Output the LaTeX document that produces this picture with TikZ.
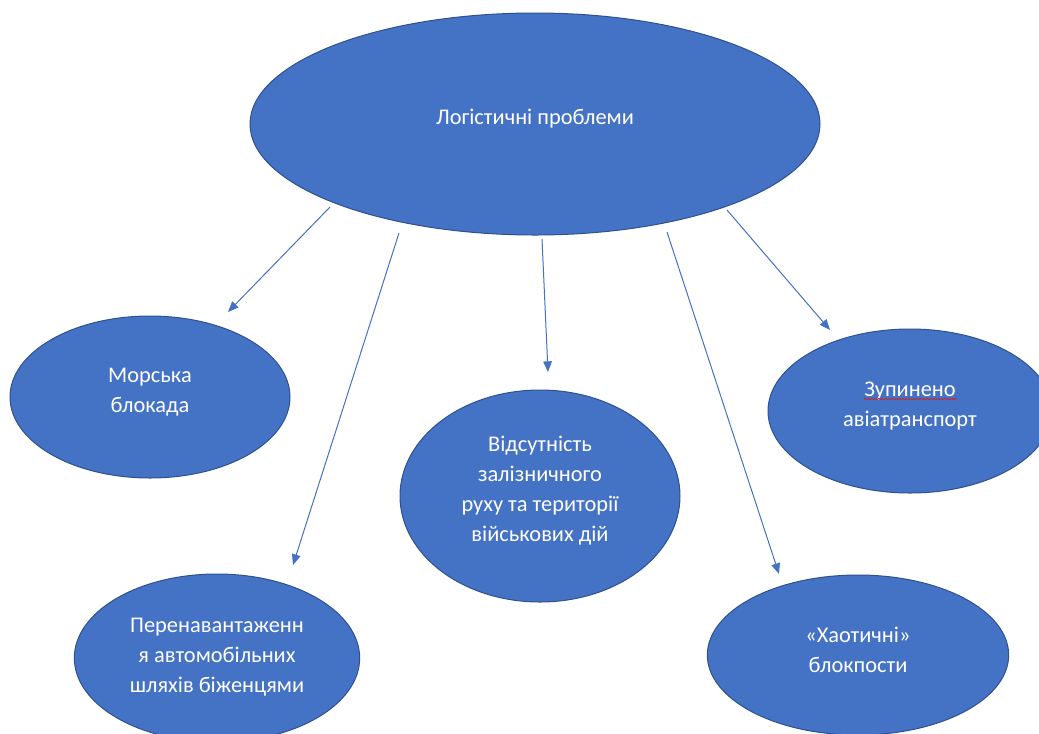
\documentclass[tikz,border=0pt]{standalone}
\usepackage{fontspec}
\setmainfont{Carlito}
\usetikzlibrary{shapes.geometric,arrows.meta,decorations.pathmorphing}
\definecolor{ofill}{HTML}{4472C4}
\definecolor{oedge}{HTML}{2F528F}
\definecolor{spell}{HTML}{D02020}
\tikzset{
  bubble/.style={ellipse, fill=ofill, draw=oedge, line width=0.75pt, inner sep=0pt},
  btext/.style={text=white, align=center, font=\fontsize{16.8}{22.5}\selectfont, inner sep=0pt},
  link/.style={draw=ofill, line width=0.75pt, -{Triangle[length=8pt,width=6.5pt]}}
}
\begin{document}
\begin{tikzpicture}[x=0.75pt,y=-0.75pt]
\useasboundingbox (0,0) rectangle (1039,733);
\clip (0,0) rectangle (1039,733);
% ellipses
\node[bubble, minimum width=427.5pt, minimum height=166.5pt] (top) at (535,124) {};
\node[bubble, minimum width=210pt, minimum height=121.5pt] (sea) at (150,397) {};
\node[bubble, minimum width=210pt, minimum height=159pt] (rail) at (540,496) {};
\node[bubble, minimum width=213pt, minimum height=123pt] (air) at (910,411) {};
\node[bubble, minimum width=214pt, minimum height=126pt] (road) at (217,658) {};
\node[bubble, minimum width=226pt, minimum height=120pt] (block) at (858,655) {};
% texts
\node[btext] (topt) at ([yshift=4pt]top.center) {Логістичні проблеми};
\node[btext] (seat) at ([yshift=4pt]sea.center) {Морська\\блокада};
\node[btext] (railt) at ([yshift=4pt]rail.center) {Відсутність\\залізничного\\руху та території\\військових дій};
\node[btext] (airt) at ([yshift=4pt]air.center) {Зупинено\\авіатранспорт};
\node[btext] (roadt) at ([yshift=1pt]road.center) {Перенавантаженн\\я автомобільних\\шляхів біженцями};
\node[btext] (blockt) at ([yshift=4pt]block.center) {«Хаотичні»\\блокпости};
% spell-check underline
\coordinate (w1) at (864,399);
\coordinate (w2) at (957,399);
\draw[spell, line width=0.5pt, decorate, decoration={snake, amplitude=0.6pt, segment length=2.6pt}] (w1) -- (w2);
% connector ends
\coordinate (s1) at (330,207); \coordinate (e1) at (228,312);
\coordinate (s2) at (399,233); \coordinate (e2) at (293,565);
\coordinate (s3) at (542,239); \coordinate (e3) at (548,372);
\coordinate (s4) at (667,232); \coordinate (e4) at (779,574);
\coordinate (s5) at (727,210); \coordinate (e5) at (830,330);
\draw[link] (s1) -- (e1);
\draw[link] (s2) -- (e2);
\draw[link] (s3) -- (e3);
\draw[link] (s4) -- (e4);
\draw[link] (s5) -- (e5);
\end{tikzpicture}
\end{document}
